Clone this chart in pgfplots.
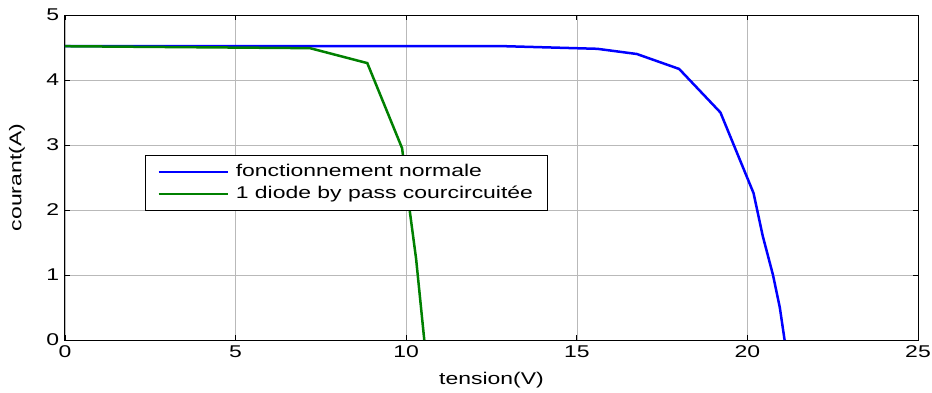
\documentclass[border=0pt]{standalone}
\usepackage{fontspec}
\setmainfont{Liberation Sans}[FakeStretch=1.35]
\usepackage{pgfplots}
\pgfplotsset{compat=1.18}
\definecolor{mblue}{RGB}{0,0,255}
\definecolor{mgreen}{RGB}{0,128,0}
\begin{document}
\fontsize{17}{20}\selectfont
\begin{tikzpicture}
\begin{axis}[
 scale only axis, width=853pt, height=325pt,
 xmin=0,xmax=25,ymin=0,ymax=5,
 xtick={0,5,10,15,20,25}, ytick={0,1,2,3,4,5},
 tick align=inside, major tick length=5pt,
 grid=major, grid style={gray!55, line width=0.5pt},
 axis line style={line width=1pt},
 tick style={black, line width=0.8pt},
 /pgf/number format/assume math mode=true,
 ticklabel style={font=\fontsize{17}{20}\selectfont},
 xlabel={tension(V)}, ylabel={courant(A)},
 every axis x label/.style={at={(axis description cs:0.5,-0.123)}, anchor=center, font=\fontsize{17}{20}\selectfont},
 every axis y label/.style={at={(axis description cs:-0.0563,0.5)}, rotate=90, anchor=center, font=\fontsize{17}{20}\selectfont},
 legend style={at={(0.0938,0.569)}, anchor=north west, draw=black, line width=0.8pt,
   font=\fontsize{17}{20}\selectfont, inner xsep=12pt, inner ysep=7pt, row sep=3pt},
 legend cell align=left,
 legend image code/.code={\draw[#1, line width=2.3pt] (0pt,0pt) -- (69pt,0pt); \node[inner sep=0pt, minimum width=3pt, minimum height=1pt] at (71pt,0pt) {};},
]
\addplot[mblue, line width=2.5pt] coordinates {
(0,4.52) (12.9,4.52) (15.6,4.48) (16.76,4.40) (18.0,4.17) (19.21,3.50) (20.18,2.26) (20.45,1.6) (20.75,1.0) (20.95,0.5) (21.09,0)
};
\addlegendentry{fonctionnement normale}
\addplot[mgreen, line width=2.5pt] coordinates {
(0,4.52) (7.18,4.49) (8.86,4.26) (9.88,2.95) (10.05,2.2) (10.29,1.25) (10.53,0)
};
\addlegendentry{1 diode by pass courcircuitée}
\end{axis}
\pgfresetboundingbox
\path (-65pt,-52pt) rectangle (867pt,340pt);
\end{tikzpicture}
\end{document}
